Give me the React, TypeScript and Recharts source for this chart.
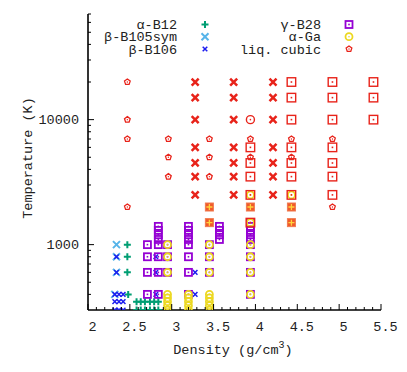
import React from "react";
import { ScatterChart, Scatter, XAxis, YAxis } from "recharts";

// [density (g/cm3), temperature (K)]
const alphaB12: [number, number][] = [
  [2.47, 1000], [2.47, 800], [2.47, 600], [2.48, 400],
  [2.58, 350], [2.63, 350], [2.68, 350], [2.74, 350], [2.79, 350], [2.84, 350],
  [2.58, 300], [2.63, 300], [2.68, 300], [2.74, 300], [2.79, 300], [2.84, 300],
];
const betaB105sym: [number, number][] = [
  [2.34, 1000], [2.34, 800], [2.34, 600], [2.32, 400],
];
const betaB106: [number, number][] = [
  [2.32, 400], [2.37, 400], [2.42, 400],
  [2.32, 350], [2.37, 350], [2.42, 350],
  [2.32, 300], [2.37, 300], [2.42, 300],
  [2.34, 800], [2.34, 600],
  [2.81, 800], [2.81, 600], [2.81, 400],
  [3.28, 600], [3.28, 400],
];
const gammaB28: [number, number][] = [
  [2.71, 1000], [2.71, 800], [2.71, 600], [2.71, 400],
  [2.84, 1400], [2.84, 1300], [2.84, 1200], [2.84, 1100], [2.84, 1000],
  [2.84, 800], [2.84, 600], [2.84, 400],
  [2.95, 1000], [2.95, 800], [2.95, 600],
  [3.2, 1400], [3.2, 1300], [3.2, 1200], [3.2, 1100], [3.2, 1000],
  [3.2, 800], [3.2, 600], [3.2, 400],
  [3.45, 1000], [3.45, 800], [3.45, 600],
  [3.57, 1400], [3.57, 1300], [3.57, 1200], [3.57, 1100],
  [3.94, 1500], [3.94, 1400], [3.94, 1300], [3.94, 1200], [3.94, 1100], [3.94, 1000],
  [3.94, 800], [3.94, 600], [3.94, 400],
];
const alphaGa: [number, number][] = [
  [2.95, 1000], [2.95, 800], [2.95, 600],
  [2.95, 400], [2.95, 375], [2.95, 350], [2.95, 325], [2.95, 300],
  [3.2, 400], [3.2, 375], [3.2, 350], [3.2, 325], [3.2, 300],
  [3.45, 1000], [3.45, 800], [3.45, 600],
  [3.45, 400], [3.45, 375], [3.45, 350], [3.45, 325], [3.45, 300],
  [3.94, 1000], [3.94, 800], [3.94, 600], [3.94, 400],
  [3.94, 1500], [3.94, 2500], [4.43, 2500],
];
const liqCubic: [number, number][] = [
  [2.47, 20000], [2.47, 10000], [2.47, 7000], [2.47, 2000],
  [2.96, 7000], [2.96, 5000], [2.96, 3500],
  [3.45, 7000], [3.45, 5000], [3.45, 3500],
  [3.94, 7000], [3.94, 5000],
  [4.43, 7000], [4.43, 5000],
  [4.92, 7000], [4.92, 2000],
];
const redCross: [number, number][] = [
  [3.28, 20000], [3.28, 15000], [3.28, 10000], [3.28, 6000], [3.28, 4500], [3.28, 3500], [3.28, 2500],
  [3.74, 20000], [3.74, 15000], [3.74, 10000], [3.74, 6000], [3.74, 4500], [3.74, 3500], [3.74, 2500],
  [4.21, 20000], [4.21, 15000], [4.21, 10000], [4.21, 6000], [4.21, 4500], [4.21, 3500], [4.21, 2500],
];
const redSquare: [number, number][] = [
  [3.94, 6000], [3.94, 4500], [3.94, 3500], [3.94, 2500], [3.94, 1500],
  [4.43, 20000], [4.43, 15000], [4.43, 10000], [4.43, 6000], [4.43, 4500], [4.43, 3500], [4.43, 2500],
  [4.92, 20000], [4.92, 15000], [4.92, 10000], [4.92, 6000], [4.92, 4500], [4.92, 3500], [4.92, 2500],
  [5.41, 20000], [5.41, 15000], [5.41, 10000],
];
const boxPlus: [number, number][] = [
  [3.45, 2000], [3.45, 1500], [3.94, 2000], [4.43, 2000], [4.43, 1500],
];
const redCircle: [number, number][] = [[3.94, 10000]];

const xTicks = Array.from({ length: 36 }, (_, i) => (20 + i) / 10);
const yTicks = [400, 500, 600, 700, 800, 900, 1000, 2000, 3000, 4000, 5000, 6000, 7000, 8000, 9000, 10000,
  20000, 30000, 40000, 50000, 60000, 70000];
const yLabels = [1000, 10000];

const GREEN = "#009e73";
const LBLUE = "#56b4e9";
const BLUE = "#1c1cf0";
const PURPLE = "#9400d3";
const YELLOW = "#ecd820";
const RED = "#e8231a";
const FONT = "'Liberation Mono', 'DejaVu Sans Mono', monospace";

const toPts = (list: [number, number][]) => list.map(([d, t]) => ({ d, t }));

const plus = (cx: number, cy: number, c: string, h = 3.5, w = 2) => (
  <path d={`M${cx - h},${cy}H${cx + h}M${cx},${cy - h}V${cy + h}`} stroke={c} strokeWidth={w} fill="none" />
);
const cross = (cx: number, cy: number, c: string, h = 3.5, w = 2) => (
  <path d={`M${cx - h},${cy - h}L${cx + h},${cy + h}M${cx - h},${cy + h}L${cx + h},${cy - h}`} stroke={c} strokeWidth={w} fill="none" />
);
const squareDot = (cx: number, cy: number, c: string, s = 7, w = 1.8) => (
  <g>
    <rect x={cx - s / 2} y={cy - s / 2} width={s} height={s} fill="none" stroke={c} strokeWidth={w} />
    <rect x={cx - 0.8} y={cy - 0.8} width={1.6} height={1.6} fill={c} />
  </g>
);
const circleDot = (cx: number, cy: number, c: string, r = 3.5, w = 1.8) => (
  <g>
    <circle cx={cx} cy={cy} r={r} fill="none" stroke={c} strokeWidth={w} />
    <circle cx={cx} cy={cy} r={0.8} fill={c} />
  </g>
);
const pentaDot = (cx: number, cy: number, c: string, r = 3, w = 1.3) => {
  const pts = [0, 1, 2, 3, 4]
    .map((i) => {
      const a = ((-90 + 72 * i) * Math.PI) / 180;
      return `${cx + r * Math.cos(a)},${cy + r * Math.sin(a)}`;
    })
    .join(" ");
  return (
    <g>
      <polygon points={pts} fill="none" stroke={c} strokeWidth={w} />
      <circle cx={cx} cy={cy} r={0.7} fill={c} />
    </g>
  );
};
const boxPlusMark = (cx: number, cy: number) => (
  <g>
    <rect x={cx - 4} y={cy - 4} width={8} height={8} fill="#f05a2a" stroke="#f07a50" strokeWidth={1} />
    <path d={`M${cx - 3},${cy}H${cx + 3}M${cx},${cy - 3}V${cy + 3}`} stroke="#ffd43c" strokeWidth={1.3} />
  </g>
);

const series = [
  { name: "α-B12", data: alphaB12, draw: (x: number, y: number) => plus(x, y, GREEN) },
  { name: "β-B105sym", data: betaB105sym, draw: (x: number, y: number) => cross(x, y, LBLUE, 3.5, 2) },
  { name: "β-B106", data: betaB106, draw: (x: number, y: number) => cross(x, y, BLUE, 2.3, 1.5) },
  { name: "γ-B28", data: gammaB28, draw: (x: number, y: number) => squareDot(x, y, PURPLE) },
  { name: "α-Ga", data: alphaGa, draw: (x: number, y: number) => circleDot(x, y, YELLOW) },
  { name: "liq. cubic", data: liqCubic, draw: (x: number, y: number) => pentaDot(x, y, RED) },
  { name: "", data: redCross, draw: (x: number, y: number) => cross(x, y, RED, 3.5, 2.5) },
  { name: "", data: redSquare, draw: (x: number, y: number) => squareDot(x, y, RED, 8.5, 1.4) },
  { name: "", data: boxPlus, draw: (x: number, y: number) => boxPlusMark(x, y) },
  { name: "", data: redCircle, draw: (x: number, y: number) => circleDot(x, y, RED, 4, 1.4) },
];

const LeftTick = (p: any) => {
  const { x, y, payload } = p;
  const major = yLabels.includes(payload.value);
  return (
    <g>
      <line x1={x} x2={x + (major ? 6 : 3)} y1={y} y2={y} stroke="#000" strokeWidth={1} />
      {major && (
        <text x={x - 9} y={y + 4.5} textAnchor="end" fontFamily={FONT} fontSize={13.5} fill="#222">
          {payload.value}
        </text>
      )}
    </g>
  );
};
const RightTick = (p: any) => {
  const { x, y, payload } = p;
  const major = yLabels.includes(payload.value);
  return <line x1={x} x2={x - (major ? 6 : 3)} y1={y} y2={y} stroke="#000" strokeWidth={1} />;
};
const BottomTick = (p: any) => {
  const { x, y, payload } = p;
  const major = Math.round(payload.value * 10) % 5 === 0;
  return (
    <g>
      <line x1={x} x2={x} y1={y} y2={y - (major ? 6 : 3)} stroke="#000" strokeWidth={1} />
      {major && (
        <text x={x + 4.5} y={y + 21} textAnchor="middle" fontFamily={FONT} fontSize={13.5} fill="#222">
          {String(payload.value)}
        </text>
      )}
    </g>
  );
};
const TopTick = (p: any) => {
  const { x, y, payload } = p;
  const major = Math.round(payload.value * 10) % 5 === 0;
  return <line x1={x} x2={x} y1={y} y2={y + (major ? 6 : 3)} stroke="#000" strokeWidth={1} />;
};

const frame = { stroke: "#000", strokeWidth: 1.6 };
const legendCols = [
  { textX: 177, symX: 205 },
  { textX: 321, symX: 349 },
];
const legendRows = [24.5, 36.7, 49];

export default function App() {
  const named = series.filter((s) => s.name);
  return (
    <div style={{ position: "absolute", left: 0, top: 0, width: 407, height: 372, background: "#fff" }}>
      <ScatterChart width={407} height={372} margin={{ top: 14, right: 26, bottom: 22, left: 8 }}>
        <XAxis xAxisId="b" dataKey="d" type="number" domain={[2, 5.5]} ticks={xTicks} interval={0}
          height={40} tickSize={0} tickMargin={0} tickLine={false} axisLine={frame} tick={<BottomTick />} allowDataOverflow />
        <XAxis xAxisId="t" orientation="top" type="number" domain={[2, 5.5]} ticks={xTicks} interval={0}
          height={0} tickSize={0} tickMargin={0} tickLine={false} axisLine={frame} tick={<TopTick />} allowDataOverflow />
        <YAxis yAxisId="l" dataKey="t" type="number" scale="log" domain={[300, 70000]} ticks={yTicks} interval={0}
          width={80} tickSize={0} tickMargin={0} tickLine={false} axisLine={frame} tick={<LeftTick />} allowDataOverflow />
        <YAxis yAxisId="r" orientation="right" type="number" scale="log" domain={[300, 70000]} ticks={yTicks} interval={0}
          width={0} tickSize={0} tickMargin={0} tickLine={false} axisLine={frame} tick={<RightTick />} allowDataOverflow />
        {series.map((s, i) => (
          <Scatter key={i} name={s.name || `s${i}`} xAxisId="b" yAxisId="l" data={toPts(s.data)}
            isAnimationActive={false} shape={(p: any) => s.draw(p.cx, p.cy)} />
        ))}
      </ScatterChart>
      <svg width={407} height={372} style={{ position: "absolute", left: 0, top: 0, pointerEvents: "none" }}>
        {named.map((s, i) => {
          const col = legendCols[Math.floor(i / 3)];
          const y = legendRows[i % 3];
          return (
            <g key={s.name}>
              <text x={col.textX} y={y + 4.5} textAnchor="end" fontFamily={FONT} fontSize={13.5} fill="#222">
                {s.name}
              </text>
              {s.draw(col.symX, y)}
            </g>
          );
        })}
        <text x={32} y={158} transform="rotate(-90 32 158)" textAnchor="middle" fontFamily={FONT} fontSize={13.5} fill="#222">
          Temperature (K)
        </text>
        <text x={233} y={354} textAnchor="middle" fontFamily={FONT} fontSize={13.5} fill="#222">
          Density (g/cm<tspan dy={-6} fontSize={10}>3</tspan><tspan dy={6}>)</tspan>
        </text>
      </svg>
    </div>
  );
}
